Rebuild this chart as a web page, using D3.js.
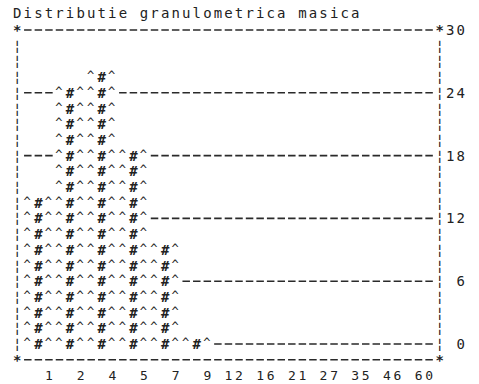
<!DOCTYPE html>
<html lang="ro">
<head>
    <meta charset="UTF-8">
    <title>Distributie granulometrica masica</title>
    <script src="https://d3js.org/d3.v7.min.js"></script>
    <style>
        body { margin: 0; background: #fff; }
        text {
            font-family: "DejaVu Sans Mono", "Liberation Mono", monospace;
            font-size: 14px;
            fill: #222;
            dominant-baseline: central;
        }
        .xlab { font-size: 13px; }
        .dash { stroke: #2a2a2a; stroke-width: 1.6; stroke-dasharray: 7.5 3.06; }
    </style>
</head>
<body>
<script>
    // date
    const title = "Distributie granulometrica masica";
    const categories = ["1", "2", "4", "5", "7", "9", "12", "16", "21", "27", "35", "46", "60"];
    const values = [14, 24.5, 26, 18.5, 9.5, 1, 0, 0, 0, 0, 0, 0, 0];
    const yTicks = [0, 6, 12, 18, 24, 30];

    // grila de caractere (imprimanta matriciala)
    const width = 479, height = 384;
    const cw = 10.56;           // latimea unei coloane
    const left = 12;            // marginea coloanei 0
    const ls = cw - 14 * 0.602; // letter-spacing ca sa umple coloana
    const ls13 = cw - 13 * 0.602;
    const step = 1.5;           // o linie de text = 1.5 unitati

    const svg = d3.select("body").append("svg")
        .attr("width", width)
        .attr("height", height);

    const x = d3.scaleBand()
        .domain(categories)
        .range([left + cw, left + 40 * cw]);

    const y = d3.scaleLinear()
        .domain([0, 30])
        .range([344, 30]);

    const rowH = y(0) - y(step);
    const levels = d3.range(0, 30, step);   // 0 .. 28.5
    const colX = c => left + c * cw + ls / 2;

    // titlu
    svg.append("text")
        .attr("x", colX(0))
        .attr("y", 13)
        .style("letter-spacing", ls + "px")
        .text(title);

    // chenar sus / jos
    [30, -step].forEach(v => {
        svg.append("line").attr("class", "dash")
            .attr("x1", left + cw + 1.5).attr("x2", left + 40 * cw)
            .attr("y1", y(v)).attr("y2", y(v));
        svg.append("text").attr("x", colX(0)).attr("y", y(v)).style("font-weight", "bold").text("*");
        svg.append("text").attr("x", colX(40)).attr("y", y(v)).style("font-weight", "bold").text("*");
    });

    // chenar stanga / dreapta
    svg.selectAll(".bord-l").data(levels).enter().append("text")
        .attr("class", "bord-l")
        .attr("x", colX(0)).attr("y", d => y(d)).text("¦");
    svg.selectAll(".bord-r").data(levels).enter().append("text")
        .attr("class", "bord-r")
        .attr("x", colX(40)).attr("y", d => y(d)).text("¦");

    // linii de grila
    svg.selectAll(".grid").data(yTicks.filter(d => d < 30)).enter().append("line")
        .attr("class", "dash grid")
        .attr("x1", left + cw + 1.5).attr("x2", left + 40 * cw)
        .attr("y1", d => y(d)).attr("y2", d => y(d));

    // etichete axa y
    svg.selectAll(".ylab").data(yTicks).enter().append("text")
        .attr("class", "ylab")
        .attr("x", d => colX(43 - String(d).length))
        .attr("y", d => y(d))
        .style("letter-spacing", ls + "px")
        .text(d => d);

    // bare "^#^"
    const cells = [];
    categories.forEach((c, i) => {
        levels.filter(v => v < values[i]).forEach(v => cells.push({c: c, v: v}));
    });

    const cell = svg.selectAll(".cell").data(cells).enter().append("g")
        .attr("class", "cell")
        .attr("transform", d => "translate(" + x(d.c) + "," + y(d.v) + ")");

    cell.append("rect")
        .attr("x", 0).attr("y", -rowH / 2)
        .attr("width", x.bandwidth()).attr("height", rowH)
        .attr("fill", "#fff");

    ["^", "#", "^"].forEach((ch, j) => {
        cell.append("text")
            .attr("x", j * cw + ls / 2)
            .attr("y", ch === "^" ? -1 : 0)
            .style("font-weight", ch === "#" ? "bold" : "normal")
            .style("font-size", ch === "^" ? "12px" : null)
            .text(ch);
    });

    // etichete axa x
    svg.selectAll(".xlab").data(categories).enter().append("text")
        .attr("class", "xlab")
        .attr("x", d => x(d) + x.bandwidth() - d.length * cw + ls13 / 2)
        .attr("y", 375)
        .style("letter-spacing", ls13 + "px")
        .text(d => d);
</script>
</body>
</html>
